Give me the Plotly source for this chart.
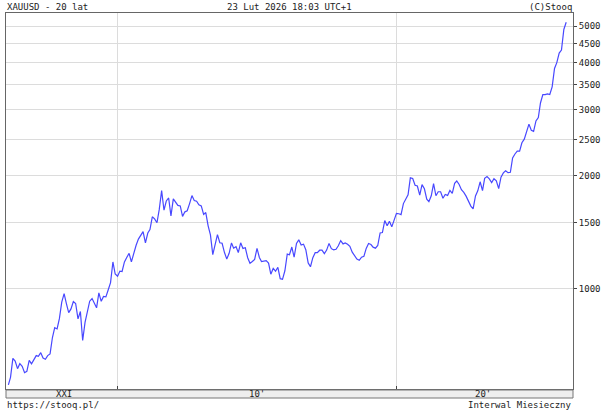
import plotly.graph_objects as go
import pandas as pd

start = "2006-02-01"
prices = [
    556, 582, 654, 643, 614, 633, 623, 599, 604, 646, 632,
    650, 665, 662, 677, 655, 650, 665, 672, 743, 789, 783, 834,
    923, 972, 916, 865, 885, 926, 915, 833, 871, 730, 815, 869,
    928, 943, 916, 891, 976, 927, 955, 953, 995, 1040, 1180, 1096,
    1081, 1116, 1113, 1180, 1213, 1244, 1181, 1247, 1307, 1357, 1384, 1421,
    1327, 1409, 1439, 1556, 1536, 1500, 1628, 1826, 1620, 1714, 1746, 1564,
    1737, 1696, 1668, 1663, 1560, 1604, 1614, 1687, 1772, 1719, 1712, 1675,
    1663, 1578, 1597, 1472, 1393, 1234, 1312, 1395, 1327, 1323, 1250, 1202,
    1244, 1326, 1284, 1296, 1250, 1327, 1282, 1287, 1211, 1171, 1183, 1199,
    1283, 1213, 1183, 1184, 1190, 1172, 1095, 1134, 1115, 1142, 1065, 1061,
    1118, 1238, 1233, 1293, 1215, 1322, 1351, 1309, 1316, 1272, 1173, 1146,
    1211, 1249, 1249, 1268, 1269, 1242, 1269, 1322, 1280, 1271, 1275, 1303,
    1345, 1318, 1325, 1315, 1298, 1253, 1224, 1201, 1192, 1215, 1222, 1282,
    1321, 1313, 1292, 1284, 1305, 1409, 1413, 1520, 1472, 1513, 1463, 1517,
    1589, 1585, 1577, 1687, 1730, 1781, 1975, 1968, 1887, 1879, 1776, 1895,
    1847, 1734, 1708, 1769, 1907, 1770, 1814, 1814, 1743, 1783, 1774, 1829,
    1797, 1909, 1937, 1897, 1837, 1807, 1766, 1711, 1661, 1633, 1768, 1824,
    1928, 1827, 1969, 1990, 1963, 1919, 1965, 1940, 1849, 1983, 2036, 2063,
    2039, 2044, 2230, 2286, 2327, 2326, 2448, 2503, 2635, 2744, 2643, 2625,
    2798, 2858, 3124, 3289, 3289, 3303, 3290, 3448, 3858, 4000, 4240, 4320,
    4900, 5120,
]
dates = pd.date_range(start, periods=len(prices), freq="MS")

y_ticks = [1000, 1500, 2000, 2500, 3000, 3500, 4000, 4500, 5000]
decade_labels = ["XXI", "10'", "20'"]
decade_pos = ["2008-02-01", "2015-01-01", "2023-02-01"]

font = dict(family="DejaVu Sans Mono", size=9, color="#222")

fig = go.Figure(go.Scatter(x=dates, y=prices, mode="lines",
                           line=dict(color="#4848ff", width=1.2)))

W, H = 605, 418
L, R, T, B = 6, 32, 13, 29
ph = H - T - B

fig.update_layout(
    width=W, height=H, margin=dict(l=L, r=R, t=T, b=B, autoexpand=False),
    paper_bgcolor="white", plot_bgcolor="white", showlegend=False,
    font=font,
    xaxis=dict(range=["2006-01-01", "2026-05-01"], showgrid=True,
               gridcolor="#dcdcdc", tickvals=["2010-01-01", "2020-01-01"],
               showticklabels=False, ticks="inside", ticklen=3,
               showline=True, linecolor="#666", mirror=True, zeroline=False),
    yaxis=dict(type="log", side="right", range=[2.734, 3.734],
               tickvals=y_ticks, ticktext=[str(v) for v in y_ticks],
               gridcolor="#dcdcdc", ticks="outside", ticklen=3,
               tickcolor="#444", showline=True, linecolor="#666",
               mirror=True, tickfont=dict(size=9)),
)

# bottom decade strip
fig.add_shape(type="rect", xref="paper", yref="paper", x0=0, x1=1,
              y0=-9 / ph, y1=-1 / ph, fillcolor="#eeeeee",
              line=dict(color="#777", width=1))
for lab, pos in zip(decade_labels, decade_pos):
    fig.add_annotation(x=pos, y=-5 / ph, xref="x", yref="paper", text=lab,
                       showarrow=False, font=dict(size=9, color="#222",
                       family="DejaVu Sans Mono"), yanchor="middle")

texts = [
    ("XAUUSD - 20 lat", 0, 1, "left", "bottom"),
    ("23 Lut 2026 18:03 UTC+1", 0.5, 1, "center", "bottom"),
    ("(C)Stooq", 1, 1, "right", "bottom"),
    ("https://stooq.pl/", 0, -10 / ph, "left", "top"),
    ("Interwal Miesieczny", 1, -10 / ph, "right", "top"),
]
for t, x, y, xa, ya in texts:
    fig.add_annotation(x=x, y=y, xref="paper", yref="paper", text=t,
                       showarrow=False, xanchor=xa, yanchor=ya,
                       font=font, borderpad=0)

# drop the default page margin so the figure sits at the window's corner
fig.write_html("out.html", config={"displayModeBar": False},
               post_script="document.body.style.margin='0';")
